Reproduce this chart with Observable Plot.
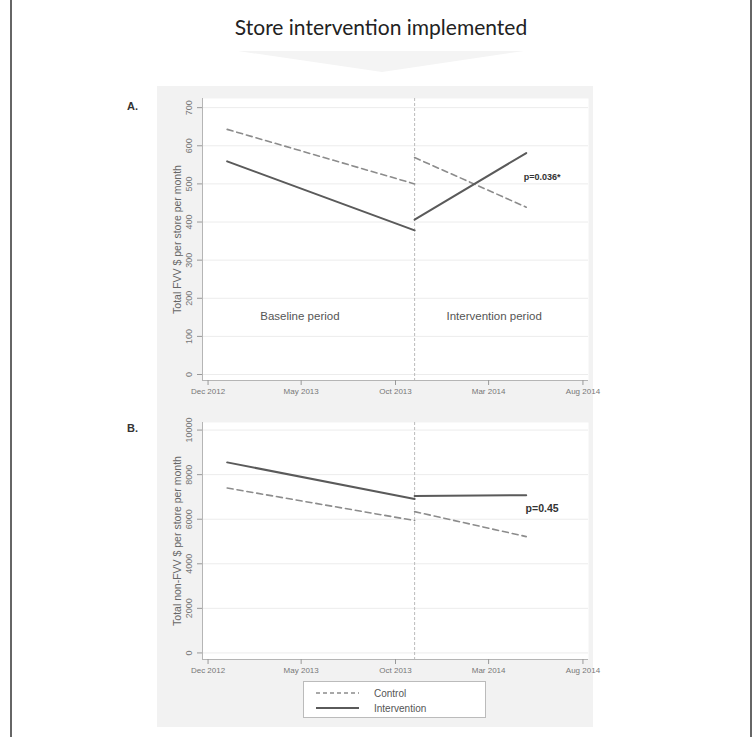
<!DOCTYPE html>
<html>
<head>
<meta charset="utf-8">
<script src="https://cdn.jsdelivr.net/npm/d3@7"></script>
<script src="https://cdn.jsdelivr.net/npm/@observablehq/plot@0.6"></script>
<style>
  body { margin: 0; background: #fff; }
  #page { position: relative; width: 754px; height: 737px; background: #fff; overflow: hidden; font-family: "Liberation Sans", Arial, sans-serif; }
  .abs { position: absolute; }
</style>
</head>
<body>
<div id="page">
  <div class="abs" style="left:10px;top:0;width:2px;height:737px;background:#666"></div>
  <div class="abs" style="left:750px;top:0;width:2px;height:737px;background:#666"></div>
  <div id="title" class="abs" style="left:0;width:762px;top:14px;text-align:center;font-family:Lato,sans-serif;font-size:21px;color:#222">Store intervention implemented</div>
  <svg class="abs" style="left:0;top:0" width="754" height="80"><polygon points="238,51 524,51 382,72" fill="#f4f4f4"/></svg>
  <div class="abs" style="left:157px;top:86px;width:436px;height:641px;background:#f2f2f2"></div>
  <div class="abs" style="left:127px;top:100px;font-size:11px;font-weight:bold;color:#333">A.</div>
  <div class="abs" style="left:127px;top:422px;font-size:11px;font-weight:bold;color:#333">B.</div>
  <div id="chartA" class="abs" style="left:157px;top:86px"></div>
  <div id="chartB" class="abs" style="left:157px;top:406px"></div>
  <div id="legend" class="abs" style="left:303px;top:681px;width:181px;height:35px;background:#fff;border:1px solid #bbb;font-size:10px;color:#555"></div>
</div>
<script>
// ---- data ----
const seriesNames = ["Control", "Intervention"];
const baselineDates = ["2013-01-01", "2013-11-01"];
const interventionDates = ["2013-11-01", "2014-05-01"];
const interventionStart = "2013-11-01";

const fvvControlBaseline = [643, 500];
const fvvInterventionBaseline = [559, 378];
const fvvControlPost = [569, 439];
const fvvInterventionPost = [406, 581];

const nonfvvControlBaseline = [7400, 5940];
const nonfvvInterventionBaseline = [8550, 6910];
const nonfvvControlPost = [6340, 5220];
const nonfvvInterventionPost = [7040, 7080];

const xTickDates = ["2012-12-01", "2013-05-01", "2013-10-01", "2014-03-01", "2014-08-01"];
const xTickLabels = ["Dec 2012", "May 2013", "Oct 2013", "Mar 2014", "Aug 2014"];
const yTicksA = [0, 100, 200, 300, 400, 500, 600, 700];
const yTicksB = [0, 2000, 4000, 6000, 8000, 10000];
const yLabelA = "Total FVV $ per store per month";
const yLabelB = "Total non-FVV $ per store per month";

const periodLabels = ["Baseline period", "Intervention period"];
const periodLabelDates = ["2013-04-29", "2014-03-10"];
const periodLabelValue = 152;
const pLabelA = "p=0.036*";
const pLabelB = "p=0.45";
const pDateA = "2014-04-27", pValueA = 517;
const pDateB = "2014-04-30", pValueB = 6477;

// ---- build tables ----
const D = s => new Date(s + "T00:00:00Z");
function seg(series, period, dates, vals) {
  return dates.map((d, i) => ({series, period, date: D(d), value: vals[i]}));
}
const dataA = [
  ...seg("Control", "base", baselineDates, fvvControlBaseline),
  ...seg("Intervention", "base", baselineDates, fvvInterventionBaseline),
  ...seg("Control", "post", interventionDates, fvvControlPost),
  ...seg("Intervention", "post", interventionDates, fvvInterventionPost)
];
const dataB = [
  ...seg("Control", "base", baselineDates, nonfvvControlBaseline),
  ...seg("Intervention", "base", baselineDates, nonfvvInterventionBaseline),
  ...seg("Control", "post", interventionDates, nonfvvControlPost),
  ...seg("Intervention", "post", interventionDates, nonfvvInterventionPost)
];
const xTicks = xTickDates.map(D);
const xFmt = d => xTickLabels[xTickDates.findIndex(s => +D(s) === +d)];
const xDomain = [D("2012-11-22"), D("2014-08-10")];

function panel(data, yDomain, yTicks, yLabel, extra, height, mt, mb) {
  const ctrl = data.filter(d => d.series === seriesNames[0]);
  const intv = data.filter(d => d.series === seriesNames[1]);
  return Plot.plot({
    width: 436, height,
    marginLeft: 45, marginRight: 5, marginTop: mt, marginBottom: mb,
    style: {background: "transparent", fontFamily: "'Liberation Sans', Arial, sans-serif", fontSize: "8px", color: "#666", overflow: "visible"},
    x: {type: "utc", domain: xDomain, axis: null, label: null},
    y: {domain: yDomain, axis: null, label: null},
    marks: [
      Plot.frame({fill: "white", stroke: null}),
      Plot.gridY(yTicks, {stroke: "#ececec", strokeOpacity: 1}),
      Plot.ruleX([D(interventionStart)], {stroke: "#bbb", strokeDasharray: "3,2", strokeWidth: 1}),
      Plot.ruleX([xDomain[0]], {stroke: "#b5b5b5"}),
      Plot.ruleY([yDomain[0]], {stroke: "#b5b5b5"}),
      Plot.axisX(xTicks, {tickSize: 5, tickPadding: 3, tickFormat: xFmt, stroke: "#999", fill: "#777", label: null}),
      Plot.axisY(yTicks, {tickSize: 5, tickFormat: () => "", stroke: "#999", label: null}),
      Plot.text(yTicks, {y: d => d, text: d => String(d), frameAnchor: "left", dx: -13, rotate: -90, textAnchor: "middle", fontSize: 9, fill: "#777"}),
      Plot.text([yLabel], {frameAnchor: "left", dx: -25, rotate: -90, textAnchor: "middle", fontSize: 10.5, fill: "#666"}),
      Plot.line(ctrl, {x: "date", y: "value", z: "period", stroke: "#8c8c8c", strokeWidth: 1.6, strokeDasharray: "6,4"}),
      Plot.line(intv, {x: "date", y: "value", z: "period", stroke: "#5a5a5a", strokeWidth: 2}),
      ...extra
    ]
  });
}

const chartA = panel(dataA, [-15.7, 724], yTicksA, yLabelA, [
  Plot.text(periodLabels, {x: (d, i) => D(periodLabelDates[i]), y: () => periodLabelValue, text: d => d, fontSize: 11.5, fill: "#555"}),
  Plot.text([pLabelA], {x: () => D(pDateA), y: () => pValueA, text: d => d, textAnchor: "start", fontSize: 9, fontWeight: "bold", fill: "#333"})
], 320, 12, 26);

const chartB = panel(dataB, [-295, 10340], yTicksB, yLabelB, [
  Plot.text([pLabelB], {x: () => D(pDateB), y: () => pValueB, text: d => d, textAnchor: "start", fontSize: 10.5, fontWeight: "bold", fill: "#333"})
], 270, 16, 17);

document.getElementById("chartA").append(chartA);
document.getElementById("chartB").append(chartB);

// legend
const legend = document.getElementById("legend");
legend.innerHTML = `
<svg width="181" height="35" style="position:absolute;left:0;top:0">
  <line x1="12" x2="55" y1="11" y2="11" stroke="#8c8c8c" stroke-width="1.6" stroke-dasharray="4,3"/>
  <line x1="12" x2="55" y1="26" y2="26" stroke="#5a5a5a" stroke-width="2"/>
  <text x="70" y="14.5" font-size="10" fill="#555">${seriesNames[0]}</text>
  <text x="70" y="29.5" font-size="10" fill="#555">${seriesNames[1]}</text>
</svg>`;
</script>
</body>
</html>
